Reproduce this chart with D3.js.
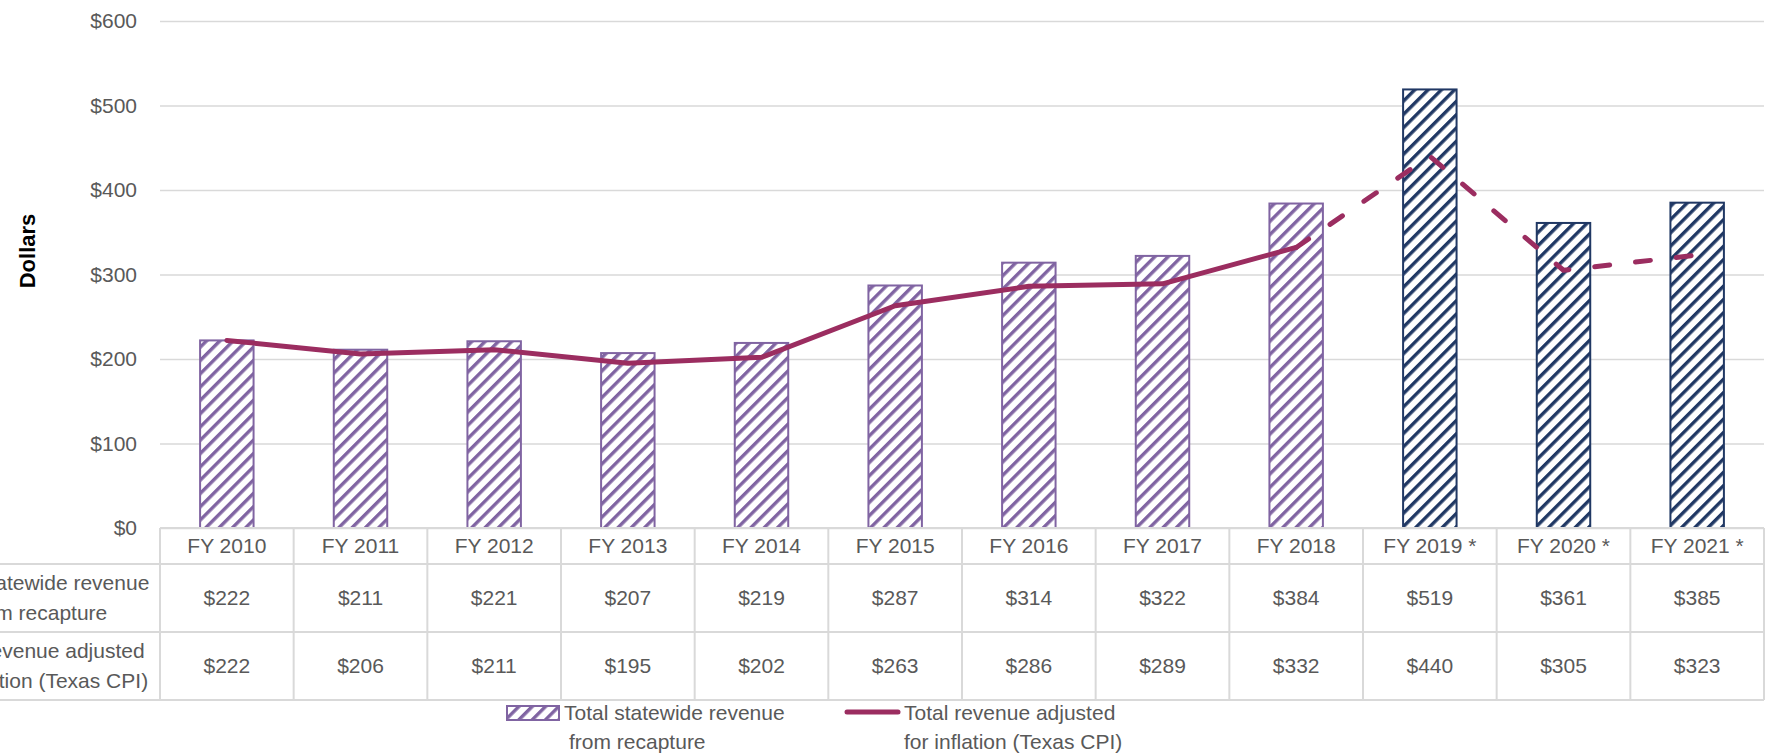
<!DOCTYPE html>
<html>
<head>
<meta charset="utf-8">
<script src="https://cdn.jsdelivr.net/npm/d3@7"></script>
<style>
  html, body { margin: 0; padding: 0; background: #fff; }
  svg { display: block; font-family: 'Liberation Sans', Arial, sans-serif; }
</style>
</head>
<body>
<svg id="chart" width="1775" height="756"></svg>
<script>
// ---- data ----
const categories = ["FY 2010","FY 2011","FY 2012","FY 2013","FY 2014","FY 2015","FY 2016","FY 2017","FY 2018","FY 2019 *","FY 2020 *","FY 2021 *"];
const revenue = [222,211,221,207,219,287,314,322,384,519,361,385];
const adjusted = [222,206,211,195,202,263,286,289,332,440,305,323];
const projected = [false,false,false,false,false,false,false,false,false,true,true,true];
const yTicks = [0,100,200,300,400,500,600];
const seriesNames = [["Total statewide revenue","from recapture"],["Total revenue adjusted","for inflation (Texas CPI)"]];
const yTitle = "Dollars";

// ---- layout ----
const svg = d3.select("#chart");
const plotLeft = 160, plotRight = 1764, plotTop = 21, plotBase = 528;
const purple = "#8064A2", navy = "#203864", lineColor = "#9B2D60", grid = "#D9D9D9", textColor = "#595959";
const fs = 21;

const x = d3.scaleBand().domain(categories).range([plotLeft, plotRight]).paddingInner(0).paddingOuter(0);
const y = d3.scaleLinear().domain([0, 600]).range([plotBase, plotTop]);
const bw = x.bandwidth() * 0.4;

// patterns
const defs = svg.append("defs");
function hatch(id, color) {
  const p = defs.append("pattern").attr("id", id).attr("patternUnits", "userSpaceOnUse")
    .attr("width", 9.4).attr("height", 20).attr("patternTransform", "rotate(45)");
  p.append("rect").attr("width", 9.4).attr("height", 20).attr("fill", "#fff");
  p.append("rect").attr("x", 0).attr("width", 3.4).attr("height", 20).attr("fill", color);
}
hatch("hatchPurple", purple);
hatch("hatchNavy", navy);

// gridlines + y axis
const yAxis = d3.axisLeft(y).tickValues(yTicks).tickSize(-(plotRight - plotLeft)).tickPadding(23).tickFormat(d => "$" + d);
const ga = svg.append("g").attr("transform", `translate(${plotLeft},0)`).call(yAxis);
ga.select(".domain").remove();
ga.selectAll("line").attr("stroke", grid).attr("stroke-width", 1.5);
ga.selectAll("text").attr("fill", textColor).attr("font-size", fs).attr("font-family", "'Liberation Sans', Arial, sans-serif");

// y title
svg.append("text").attr("transform", "translate(27,251) rotate(-90)")
  .attr("text-anchor", "middle").attr("dy", "0.35em")
  .attr("font-weight", "bold").attr("font-size", 22).attr("fill", "#000").text(yTitle);

// bars
svg.append("g").selectAll("rect").data(categories).join("rect")
  .attr("x", d => x(d) + (x.bandwidth() - bw) / 2)
  .attr("y", (d, i) => y(revenue[i]))
  .attr("width", bw)
  .attr("height", (d, i) => y(0) - y(revenue[i]))
  .attr("fill", (d, i) => projected[i] ? "url(#hatchNavy)" : "url(#hatchPurple)")
  .attr("stroke", (d, i) => projected[i] ? navy : purple)
  .attr("stroke-width", 2);

// line
const pts = categories.map((c, i) => ({ c, v: adjusted[i], i }));
const line = d3.line().x(d => x(d.c) + x.bandwidth() / 2).y(d => y(d.v));
const lastActual = projected.indexOf(true) - 1;
svg.append("path").datum(pts.slice(0, lastActual + 1)).attr("d", line)
  .attr("fill", "none").attr("stroke", lineColor).attr("stroke-width", 5)
  .attr("stroke-linejoin", "round").attr("stroke-linecap", "round");
svg.append("path").datum(pts.slice(lastActual)).attr("d", line)
  .attr("fill", "none").attr("stroke", lineColor).attr("stroke-width", 5)
  .attr("stroke-linejoin", "round").attr("stroke-linecap", "round")
  .attr("stroke-dasharray", "15,26");

// data table
const rowTops = [528, 564, 632, 700];
const tg = svg.append("g");
tg.append("line").attr("x1", plotLeft).attr("x2", plotRight).attr("y1", rowTops[0]).attr("y2", rowTops[0]);
rowTops.slice(1).forEach(r => tg.append("line").attr("x1", 0).attr("x2", plotRight).attr("y1", r).attr("y2", r));
categories.forEach(c => tg.append("line").attr("x1", x(c)).attr("x2", x(c)).attr("y1", rowTops[0]).attr("y2", rowTops[3]));
tg.append("line").attr("x1", plotRight).attr("x2", plotRight).attr("y1", rowTops[0]).attr("y2", rowTops[3]);
tg.selectAll("line").attr("stroke", grid).attr("stroke-width", 2);

// header
tg.selectAll("text.hdr").data(categories).join("text").attr("class", "hdr")
  .attr("x", d => x(d) + x.bandwidth() / 2).attr("y", 546).attr("dy", "0.35em")
  .attr("text-anchor", "middle").attr("font-size", fs).attr("fill", textColor).text(d => d);
// values
[revenue, adjusted].forEach((arr, r) => {
  const cy = (rowTops[r + 1] + rowTops[r + 2]) / 2;
  tg.selectAll(`text.v${r}`).data(arr).join("text").attr("class", `v${r}`)
    .attr("x", (d, i) => x(categories[i]) + x.bandwidth() / 2).attr("y", cy).attr("dy", "0.35em")
    .attr("text-anchor", "middle").attr("font-size", fs).attr("fill", textColor).text(d => "$" + d);
  const lbl = tg.append("text").attr("text-anchor", "middle").attr("font-size", fs).attr("fill", textColor);
  seriesNames[r].forEach((s, k) => {
    lbl.append("tspan").attr("x", 39).attr("y", cy - 15 + k * 30).attr("dy", "0.35em").text(s);
  });
});

// legend
const lg = svg.append("g");
lg.append("rect").attr("x", 507).attr("y", 706).attr("width", 52).attr("height", 14)
  .attr("fill", "url(#hatchPurple)").attr("stroke", purple).attr("stroke-width", 2);
const l1 = lg.append("text").attr("font-size", fs).attr("fill", textColor);
l1.append("tspan").attr("x", 564).attr("y", 720).text(seriesNames[0][0]);
l1.append("tspan").attr("x", 569).attr("y", 749).text(seriesNames[0][1]);
lg.append("line").attr("x1", 847).attr("x2", 898).attr("y1", 712).attr("y2", 712)
  .attr("stroke", lineColor).attr("stroke-width", 5).attr("stroke-linecap", "round");
const l2 = lg.append("text").attr("font-size", fs).attr("fill", textColor);
l2.append("tspan").attr("x", 904).attr("y", 720).text(seriesNames[1][0]);
l2.append("tspan").attr("x", 904).attr("y", 749).text(seriesNames[1][1]);
</script>
</body>
</html>
